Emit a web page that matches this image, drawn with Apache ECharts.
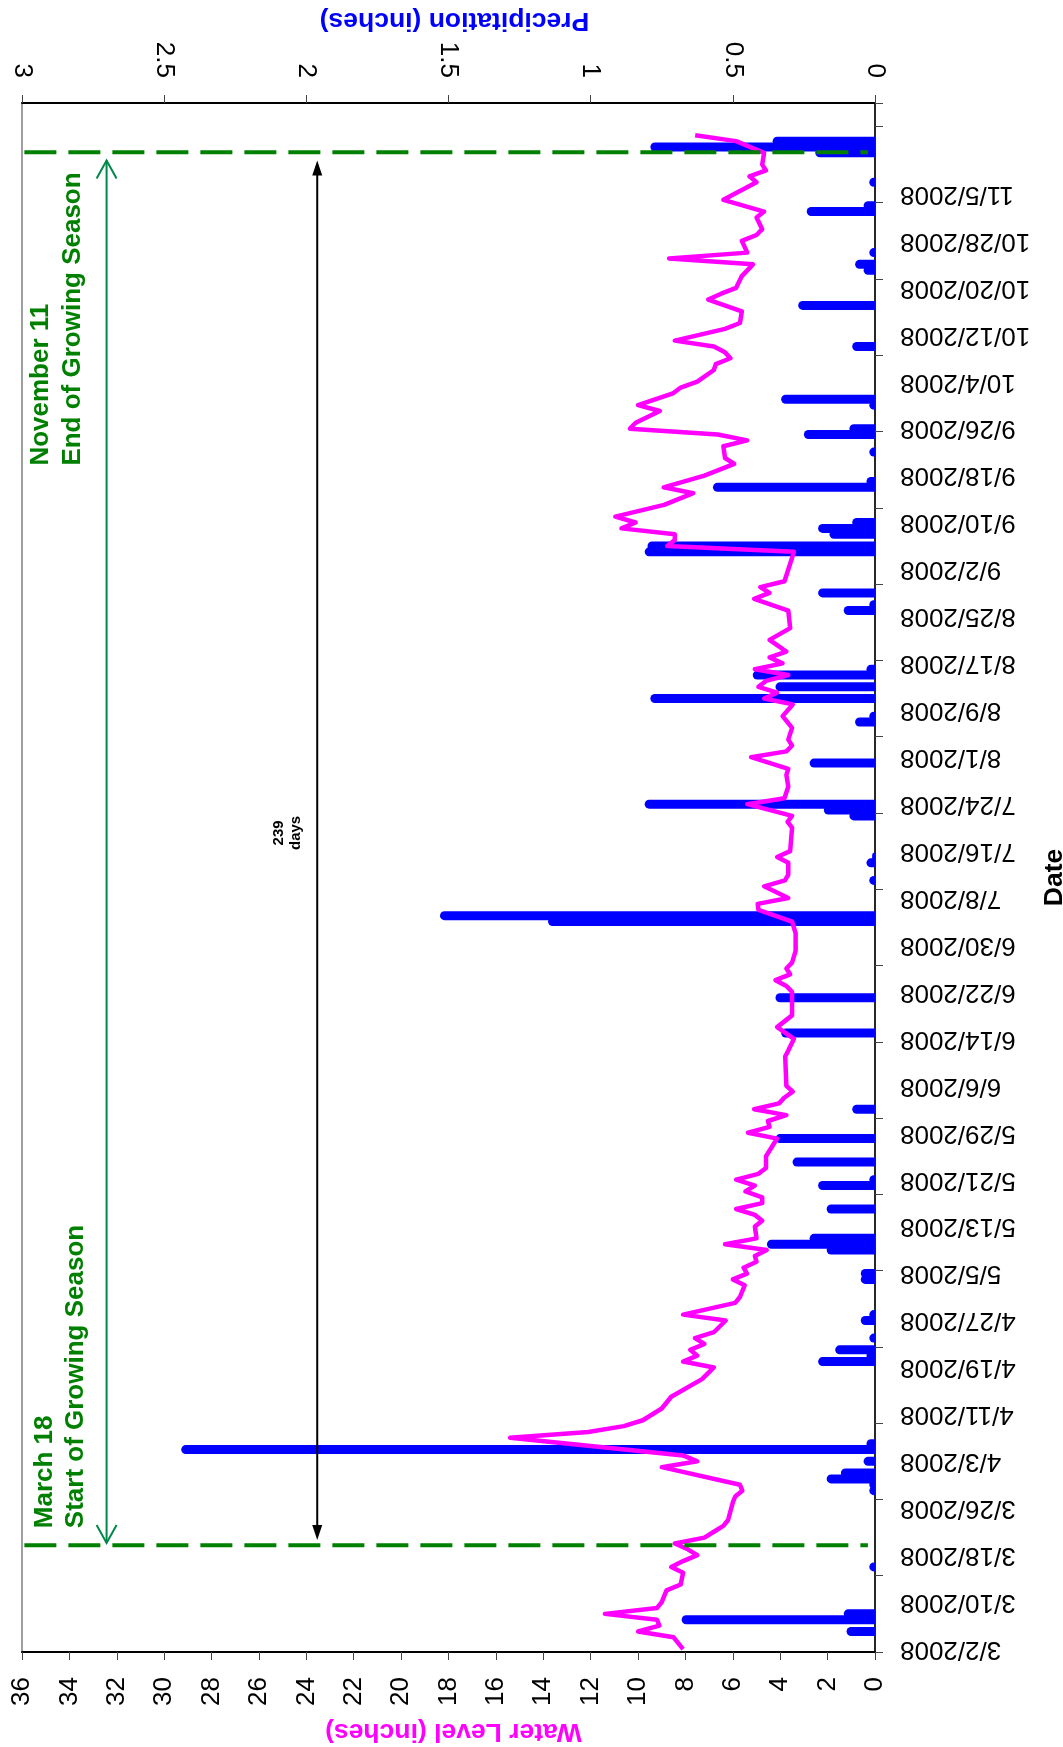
<!DOCTYPE html>
<html><head><meta charset="utf-8">
<script src="https://cdn.jsdelivr.net/npm/echarts@6/dist/echarts.min.js"></script>
<style>html,body{margin:0;padding:0;background:#fff}#c{width:1063px;height:1747px}</style>
</head><body><div id="c"></div>
<script>
// ---------------- DATA ----------------
const startDate = [2008, 3, 2];   // first category (M/D/YYYY = 3/2/2008)
const dayCount = 264;             // 3/2/2008 .. 11/20/2008
const labelEvery = 8;             // date label every 8 days
const lastLabelIndex = 248;       // 11/5/2008
const tickEvery = 13;             // tick marks every 13 days

const waterLevelTicks = { min: 0, max: 36, interval: 2 };
const precipTicks = { min: 0, max: 3, interval: 0.5 };

// Water level (inches), [date, value]
const waterLevel = [
  ['3/2/2008',8.1],['3/4/2008',8.5],['3/5/2008',10.0],['3/6/2008',9.1],['3/7/2008',9.2],['3/8/2008',11.4],
  ['3/9/2008',9.2],['3/10/2008',9.0],['3/12/2008',8.8],['3/13/2008',8.2],['3/15/2008',8.1],['3/16/2008',8.6],
  ['3/17/2008',8.1],['3/18/2008',7.5],['3/19/2008',7.9],['3/20/2008',8.45],['3/21/2008',7.2],['3/22/2008',6.8],
  ['3/23/2008',6.4],['3/24/2008',6.2],['3/27/2008',6.0],['3/28/2008',5.9],['3/29/2008',5.6],['3/30/2008',5.7],
  ['4/2/2008',9.0],['4/3/2008',7.5],['4/4/2008',8.1],['4/7/2008',15.4],['4/8/2008',12.1],['4/9/2008',10.6],
  ['4/10/2008',9.8],['4/12/2008',9.0],['4/14/2008',8.6],['4/17/2008',7.3],['4/19/2008',6.8],['4/20/2008',8.1],
  ['4/21/2008',7.5],['4/22/2008',7.8],['4/23/2008',7.2],['4/24/2008',7.6],['4/25/2008',6.8],['4/27/2008',6.3],
  ['4/28/2008',8.1],['4/30/2008',5.9],['5/1/2008',5.7],['5/3/2008',5.5],['5/4/2008',6.0],['5/5/2008',5.4],
  ['5/6/2008',5.55],['5/7/2008',5.0],['5/8/2008',5.07],['5/9/2008',4.57],['5/10/2008',6.33],['5/11/2008',5.0],
  ['5/13/2008',5.07],['5/14/2008',4.76],['5/15/2008',5.07],['5/16/2008',5.86],['5/17/2008',4.76],['5/18/2008',4.76],
  ['5/19/2008',5.47],['5/20/2008',5.07],['5/21/2008',5.86],['5/22/2008',4.92],['5/23/2008',4.6],['5/25/2008',4.6],
  ['5/27/2008',4.29],['5/28/2008',4.13],['5/29/2008',5.36],['5/30/2008',4.45],['5/31/2008',4.52],['6/1/2008',3.74],
  ['6/2/2008',5.1],['6/3/2008',4.05],['6/4/2008',3.82],['6/5/2008',3.47],['6/6/2008',3.74],['6/11/2008',3.79],
  ['6/12/2008',3.66],['6/14/2008',3.42],['6/16/2008',4.13],['6/18/2008',3.5],['6/22/2008',3.5],['6/23/2008',3.74],
  ['6/24/2008',4.2],['6/25/2008',3.58],['6/26/2008',3.74],['6/27/2008',3.5],['6/29/2008',3.35],['7/2/2008',3.35],
  ['7/4/2008',3.5],['7/6/2008',4.92],['7/7/2008',4.95],['7/8/2008',3.66],['7/10/2008',4.68],['7/11/2008',3.8],
  ['7/12/2008',3.66],['7/14/2008',3.66],['7/15/2008',4.13],['7/16/2008',3.58],['7/20/2008',3.5],['7/21/2008',3.69],
  ['7/22/2008',3.5],['7/24/2008',5.39],['7/25/2008',3.82],['7/27/2008',3.66],['7/29/2008',3.74],['7/30/2008',3.66],
  ['8/1/2008',5.23],['8/2/2008',3.74],['8/3/2008',3.5],['8/4/2008',3.66],['8/6/2008',3.5],['8/8/2008',3.9],
  ['8/10/2008',3.47],['8/11/2008',4.68],['8/12/2008',4.13],['8/13/2008',4.92],['8/14/2008',4.6],['8/15/2008',3.66],
  ['8/16/2008',5.07],['8/17/2008',3.9],['8/18/2008',4.45],['8/19/2008',3.74],['8/21/2008',4.45],['8/23/2008',3.58],
  ['8/26/2008',3.66],['8/28/2008',5.1],['8/29/2008',4.45],['8/30/2008',4.84],['8/31/2008',3.82],['9/2/2008',3.66],
  ['9/5/2008',3.42],['9/6/2008',8.77],['9/7/2008',8.45],['9/8/2008',8.45],['9/9/2008',10.7],['9/10/2008',10.1],
  ['9/11/2008',10.96],['9/13/2008',8.9],['9/15/2008',7.67],['9/16/2008',8.92],['9/18/2008',7.2],['9/20/2008',5.94],
  ['9/21/2008',6.33],['9/23/2008',6.4],['9/24/2008',5.39],['9/25/2008',6.64],['9/26/2008',10.34],['9/27/2008',10.1],
  ['9/29/2008',9.08],['9/30/2008',10.0],['10/2/2008',8.53],['10/3/2008',8.2],['10/4/2008',7.5],['10/6/2008',6.8],
  ['10/7/2008',6.72],['10/8/2008',6.1],['10/9/2008',6.33],['10/10/2008',6.8],['10/11/2008',8.45],['10/13/2008',6.33],
  ['10/14/2008',5.7],['10/16/2008',5.62],['10/18/2008',7.04],['10/19/2008',6.49],['10/20/2008',5.86],['10/22/2008',5.62],
  ['10/24/2008',5.15],['10/25/2008',8.69],['10/26/2008',5.39],['10/28/2008',5.62],['10/29/2008',5.0],['10/30/2008',4.76],
  ['11/1/2008',5.0],['11/2/2008',4.68],['11/4/2008',6.4],['11/7/2008',5.0],['11/8/2008',5.3],['11/9/2008',4.6],
  ['11/10/2008',4.76],['11/12/2008',4.68],['11/14/2008',5.86],['11/15/2008',7.59]
];

// Daily precipitation (inches), [date, value]
const precipitation = [
  ['3/5/2008',0.10],['3/7/2008',0.68],['3/8/2008',0.11],['3/16/2008',0.02],['3/29/2008',0.02],['3/30/2008',0.02],
  ['3/31/2008',0.17],['4/1/2008',0.12],['4/3/2008',0.04],['4/5/2008',2.44],['4/6/2008',0.03],['4/20/2008',0.20],
  ['4/21/2008',0.03],['4/22/2008',0.14],['4/24/2008',0.02],['4/27/2008',0.05],['4/28/2008',0.02],['5/4/2008',0.05],
  ['5/5/2008',0.05],['5/9/2008',0.17],['5/10/2008',0.38],['5/11/2008',0.23],['5/16/2008',0.17],['5/20/2008',0.20],
  ['5/21/2008',0.02],['5/24/2008',0.29],['5/28/2008',0.35],['6/2/2008',0.08],['6/15/2008',0.33],['6/21/2008',0.35],
  ['7/4/2008',1.15],['7/5/2008',1.53],['7/11/2008',0.02],['7/14/2008',0.03],['7/15/2008',0.01],['7/22/2008',0.09],
  ['7/23/2008',0.18],['7/24/2008',0.81],['7/31/2008',0.23],['8/7/2008',0.07],['8/8/2008',0.02],['8/11/2008',0.79],
  ['8/13/2008',0.35],['8/15/2008',0.43],['8/16/2008',0.03],['8/26/2008',0.11],['8/27/2008',0.02],['8/29/2008',0.20],
  ['9/5/2008',0.81],['9/6/2008',0.80],['9/8/2008',0.16],['9/9/2008',0.20],['9/10/2008',0.08],['9/16/2008',0.57],
  ['9/17/2008',0.03],['9/22/2008',0.02],['9/25/2008',0.25],['9/26/2008',0.09],['9/30/2008',0.02],['10/1/2008',0.33],
  ['10/10/2008',0.08],['10/17/2008',0.27],['10/23/2008',0.04],['10/24/2008',0.07],['10/26/2008',0.02],['11/2/2008',0.24],
  ['11/3/2008',0.04],['11/7/2008',0.02],['11/12/2008',0.21],['11/13/2008',0.79],['11/14/2008',0.36]
];

// Annotation anchors (category units for dates, inches of water level across)
const seasonStartPos = 17.7;   // dashed line, March 18
const seasonEndPos = 255.1;    // dashed line, November 11
const seasonDaysText = '239\ndays';

// ---------------- BUILD ----------------
const categories = [];
for (let i = 0; i < dayCount; i++) {
  const d = new Date(Date.UTC(startDate[0], startDate[1] - 1, startDate[2] + i));
  categories.push((d.getUTCMonth() + 1) + '/' + d.getUTCDate() + '/' + d.getUTCFullYear());
}

const FONT = '"Liberation Sans", Arial, Helvetica, sans-serif';
const chart = echarts.init(document.getElementById('c'), null, { renderer: 'canvas' });

const option = {
  animation: false,
  backgroundColor: '#ffffff',
  textStyle: { fontFamily: FONT },
  grid: {
    left: 22, right: 188, top: 103, bottom: 95,
    show: true, borderColor: '#808080', borderWidth: 1.5,
    containLabel: false, outerBoundsMode: 'none'
  },
  xAxis: [
    {
      type: 'value', position: 'bottom', inverse: true,
      min: waterLevelTicks.min, max: waterLevelTicks.max, interval: waterLevelTicks.interval,
      name: 'Water Level (inches)', nameLocation: 'middle', nameGap: 66, nameRotate: 180,
      nameTextStyle: { color: '#FF00FF', fontSize: 26.5, fontWeight: 'bold', fontFamily: FONT, padding: [0, 10, 0, 0] },
      axisLine: { show: true, lineStyle: { color: '#000', width: 2 } },
      axisTick: { show: true, inside: false, length: 8, lineStyle: { color: '#444', width: 1 } },
      axisLabel: { rotate: 90, margin: 25, color: '#000', fontSize: 26, fontFamily: FONT },
      splitLine: { show: false }
    },
    {
      type: 'value', position: 'top', inverse: true,
      min: precipTicks.min, max: precipTicks.max, interval: precipTicks.interval,
      name: 'Precipitation (inches)', nameLocation: 'middle', nameGap: 68, nameRotate: 180,
      nameTextStyle: { color: '#0000FF', fontSize: 26.5, fontWeight: 'bold', fontFamily: FONT, padding: [0, 12, 0, 0] },
      axisLine: { show: true, lineStyle: { color: '#000', width: 2 } },
      axisTick: { show: true, inside: false, length: 8, lineStyle: { color: '#444', width: 1 } },
      axisLabel: { rotate: 90, margin: 25, color: '#000', fontSize: 26, fontFamily: FONT },
      splitLine: { show: false }
    }
  ],
  yAxis: [{
    type: 'category', position: 'right', data: categories, boundaryGap: true,
    name: 'Date', nameLocation: 'middle', nameGap: 157, nameRotate: 90,
    nameTextStyle: { color: '#000', fontSize: 26.5, fontWeight: 'bold', fontFamily: FONT },
    axisLine: { show: true, lineStyle: { color: '#000', width: 1.5 } },
    axisTick: { show: true, inside: false, length: 8, alignWithLabel: false,
      interval: (index) => index % tickEvery === 0, lineStyle: { color: '#444', width: 1 } },
    axisLabel: { rotate: 180, margin: 25, color: '#000', fontSize: 26, fontFamily: FONT,
      interval: (index) => index % labelEvery === 0 && index <= lastLabelIndex },
    splitLine: { show: false }
  }],
  series: [
    {
      name: 'Precipitation', type: 'bar', xAxisIndex: 1, yAxisIndex: 0,
      barWidth: 9, z: 2,
      itemStyle: { color: '#0000FF', borderRadius: [4.5, 0, 0, 4.5] },
      data: precipitation.map(p => [p[1], p[0]])
    },
    {
      name: 'Water Level', type: 'line', xAxisIndex: 0, yAxisIndex: 0,
      showSymbol: false, symbol: 'none', z: 3,
      lineStyle: { color: '#FF00FF', width: 4.5, join: 'round' },
      data: waterLevel.map(p => [p[1], p[0]])
    }
  ]
};
chart.setOption(option);

// ---------------- ANNOTATIONS ----------------
const X = v => chart.convertToPixel({ xAxisIndex: 0 }, v);
const y0 = chart.convertToPixel({ yAxisIndex: 0 }, 0);
const y100 = chart.convertToPixel({ yAxisIndex: 0 }, 100);
const Y = v => y0 + (y100 - y0) * v / 100;

const green = '#008000';
const arrowGreen = '#00884A';
const yS = Y(seasonStartPos), yE = Y(seasonEndPos);
const gx = X(32.43), bx = X(23.54);
const gTop = Y(253.7), gBot = Y(18.07);
const bTop = Y(253.7), bBot = Y(18.6);

const graphics = [
  { type: 'line', z: 100, shape: { x1: X(35.9), y1: yS, x2: X(0.3), y2: yS },
    style: { stroke: green, lineWidth: 4, lineDash: [32, 12] } },
  { type: 'line', z: 100, shape: { x1: X(35.9), y1: yE, x2: X(0.3), y2: yE },
    style: { stroke: green, lineWidth: 4, lineDash: [32, 12] } },
  // green double arrow
  { type: 'line', z: 100, shape: { x1: gx, y1: gBot, x2: gx, y2: gTop }, style: { stroke: arrowGreen, lineWidth: 2 } },
  { type: 'polyline', z: 100, shape: { points: [[gx - 10, gTop + 18], [gx, gTop], [gx + 10, gTop + 18]] },
    style: { stroke: arrowGreen, lineWidth: 2, fill: null } },
  { type: 'polyline', z: 100, shape: { points: [[gx - 10, gBot - 18], [gx, gBot], [gx + 10, gBot - 18]] },
    style: { stroke: arrowGreen, lineWidth: 2, fill: null } },
  // black double arrow
  { type: 'line', z: 100, shape: { x1: bx, y1: bBot - 4, x2: bx, y2: bTop + 4 }, style: { stroke: '#000', lineWidth: 2 } },
  { type: 'polygon', z: 100, shape: { points: [[bx - 5, bTop + 15], [bx, bTop], [bx + 5, bTop + 15]] },
    style: { fill: '#000' } },
  { type: 'polygon', z: 100, shape: { points: [[bx - 5, bBot - 15], [bx, bBot], [bx + 5, bBot - 15]] },
    style: { fill: '#000' } },
  // texts
  { type: 'text', z: 101, x: X(24.82), y: Y(139.1), rotation: Math.PI / 2,
    style: { text: seasonDaysText, fill: '#000', font: 'bold 15px ' + FONT, align: 'center',
      verticalAlign: 'middle', lineHeight: 17 } },
  { type: 'text', z: 101, x: X(35.88), y: Y(201.7), rotation: Math.PI / 2,
    style: { text: 'November 11\nEnd of Growing Season', fill: green, font: 'bold 26px ' + FONT,
      align: 'left', verticalAlign: 'top', lineHeight: 32 } },
  { type: 'text', z: 101, x: X(35.71), y: Y(20.6), rotation: Math.PI / 2,
    style: { text: 'March 18\nStart of Growing Season', fill: green, font: 'bold 26px ' + FONT,
      align: 'left', verticalAlign: 'top', lineHeight: 31 } }
];
chart.setOption({ graphic: { elements: graphics } });
</script>
</body></html>
